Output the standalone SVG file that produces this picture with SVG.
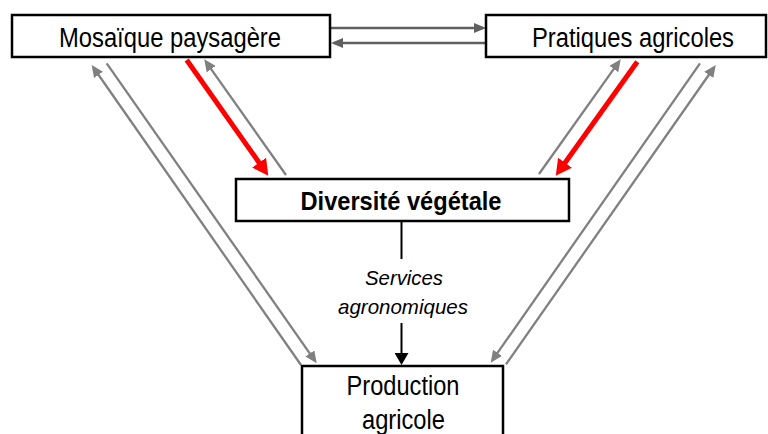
<svg xmlns="http://www.w3.org/2000/svg" width="768" height="434" viewBox="0 0 768 434">
<style>
.box{fill:#fff;stroke:#000;stroke-width:2.5}
.lbl{font-family:"Liberation Sans",Arial,sans-serif;fill:#000;text-anchor:middle}
.big{font-size:27px}
.bold{font-size:25px;font-weight:bold}
.it{font-size:21px;font-style:italic}
.gray{stroke:#808080;stroke-width:2.3;fill:none}
.dark{stroke:#606060;stroke-width:2.4;fill:none}
.red{stroke:#ff0000;stroke-width:5;fill:none}
.blk{stroke:#000;stroke-width:2;fill:none}
</style>
<defs>
<marker id="ag" markerUnits="userSpaceOnUse" markerWidth="12" markerHeight="11" refX="9" refY="5.5" orient="auto"><path d="M0,0 L12,5.5 L0,11 z" fill="#808080"/></marker>
<marker id="ad" markerUnits="userSpaceOnUse" markerWidth="12" markerHeight="10" refX="9" refY="5" orient="auto"><path d="M0,0 L12,5 L0,10 z" fill="#606060"/></marker>
<marker id="ar" markerUnits="userSpaceOnUse" markerWidth="16" markerHeight="17" refX="8" refY="8.5" orient="auto"><path d="M0,0 L16,8.5 L0,17 z" fill="#ff0000"/></marker>
<marker id="ab" markerUnits="userSpaceOnUse" markerWidth="12" markerHeight="14" refX="9" refY="7" orient="auto"><path d="M0,0 L12,7 L0,14 z" fill="#000"/></marker>
</defs>
<g id="connectors">
<line class="dark" x1="331" y1="28" x2="483" y2="28" marker-end="url(#ad)"/>
<line class="dark" x1="485" y1="43" x2="334" y2="43" marker-end="url(#ad)"/>
<line class="gray" x1="301" y1="365" x2="93.4" y2="67.5" marker-end="url(#ag)"/>
<line class="gray" x1="106.7" y1="63.3" x2="315" y2="360.8" marker-end="url(#ag)"/>
<line class="gray" x1="506" y1="364.3" x2="714" y2="67.5" marker-end="url(#ag)"/>
<line class="gray" x1="700" y1="63.3" x2="492.4" y2="360.2" marker-end="url(#ag)"/>
<line class="red" x1="186.7" y1="60" x2="263.7" y2="169.2" marker-end="url(#ar)"/>
<line class="gray" x1="286" y1="175" x2="206" y2="61.8" marker-end="url(#ag)"/>
<line class="red" x1="637.3" y1="61.7" x2="560.4" y2="169.2" marker-end="url(#ar)"/>
<line class="gray" x1="539" y1="174" x2="619" y2="61.7" marker-end="url(#ag)"/>
<line class="blk" x1="401.5" y1="221" x2="401.5" y2="259"/>
<line class="blk" x1="401.5" y1="323" x2="401.5" y2="362" marker-end="url(#ab)"/>
<text class="lbl it" x="404" y="285" textLength="78" lengthAdjust="spacingAndGlyphs">Services</text>
<text class="lbl it" x="403" y="314" textLength="130" lengthAdjust="spacingAndGlyphs">agronomiques</text>
</g>
<g id="mosaique">
<rect class="box" x="12" y="15" width="318" height="42"/>
<text class="lbl big" x="170" y="47" textLength="222" lengthAdjust="spacingAndGlyphs">Mosaïque paysagère</text>
</g>
<g id="pratiques">
<rect class="box" x="486" y="15" width="280" height="42"/>
<text class="lbl big" x="633" y="47" textLength="202" lengthAdjust="spacingAndGlyphs">Pratiques agricoles</text>
</g>
<g id="diversite">
<rect class="box" x="236" y="179" width="333" height="42"/>
<text class="lbl bold" x="401" y="210" textLength="201" lengthAdjust="spacingAndGlyphs">Diversité végétale</text>
</g>
<g id="production">
<rect class="box" x="302" y="366" width="201" height="90"/>
<text class="lbl big" x="403" y="395" textLength="113" lengthAdjust="spacingAndGlyphs">Production</text>
<text class="lbl big" x="403.5" y="429" textLength="83" lengthAdjust="spacingAndGlyphs">agricole</text>
</g>
</svg>
